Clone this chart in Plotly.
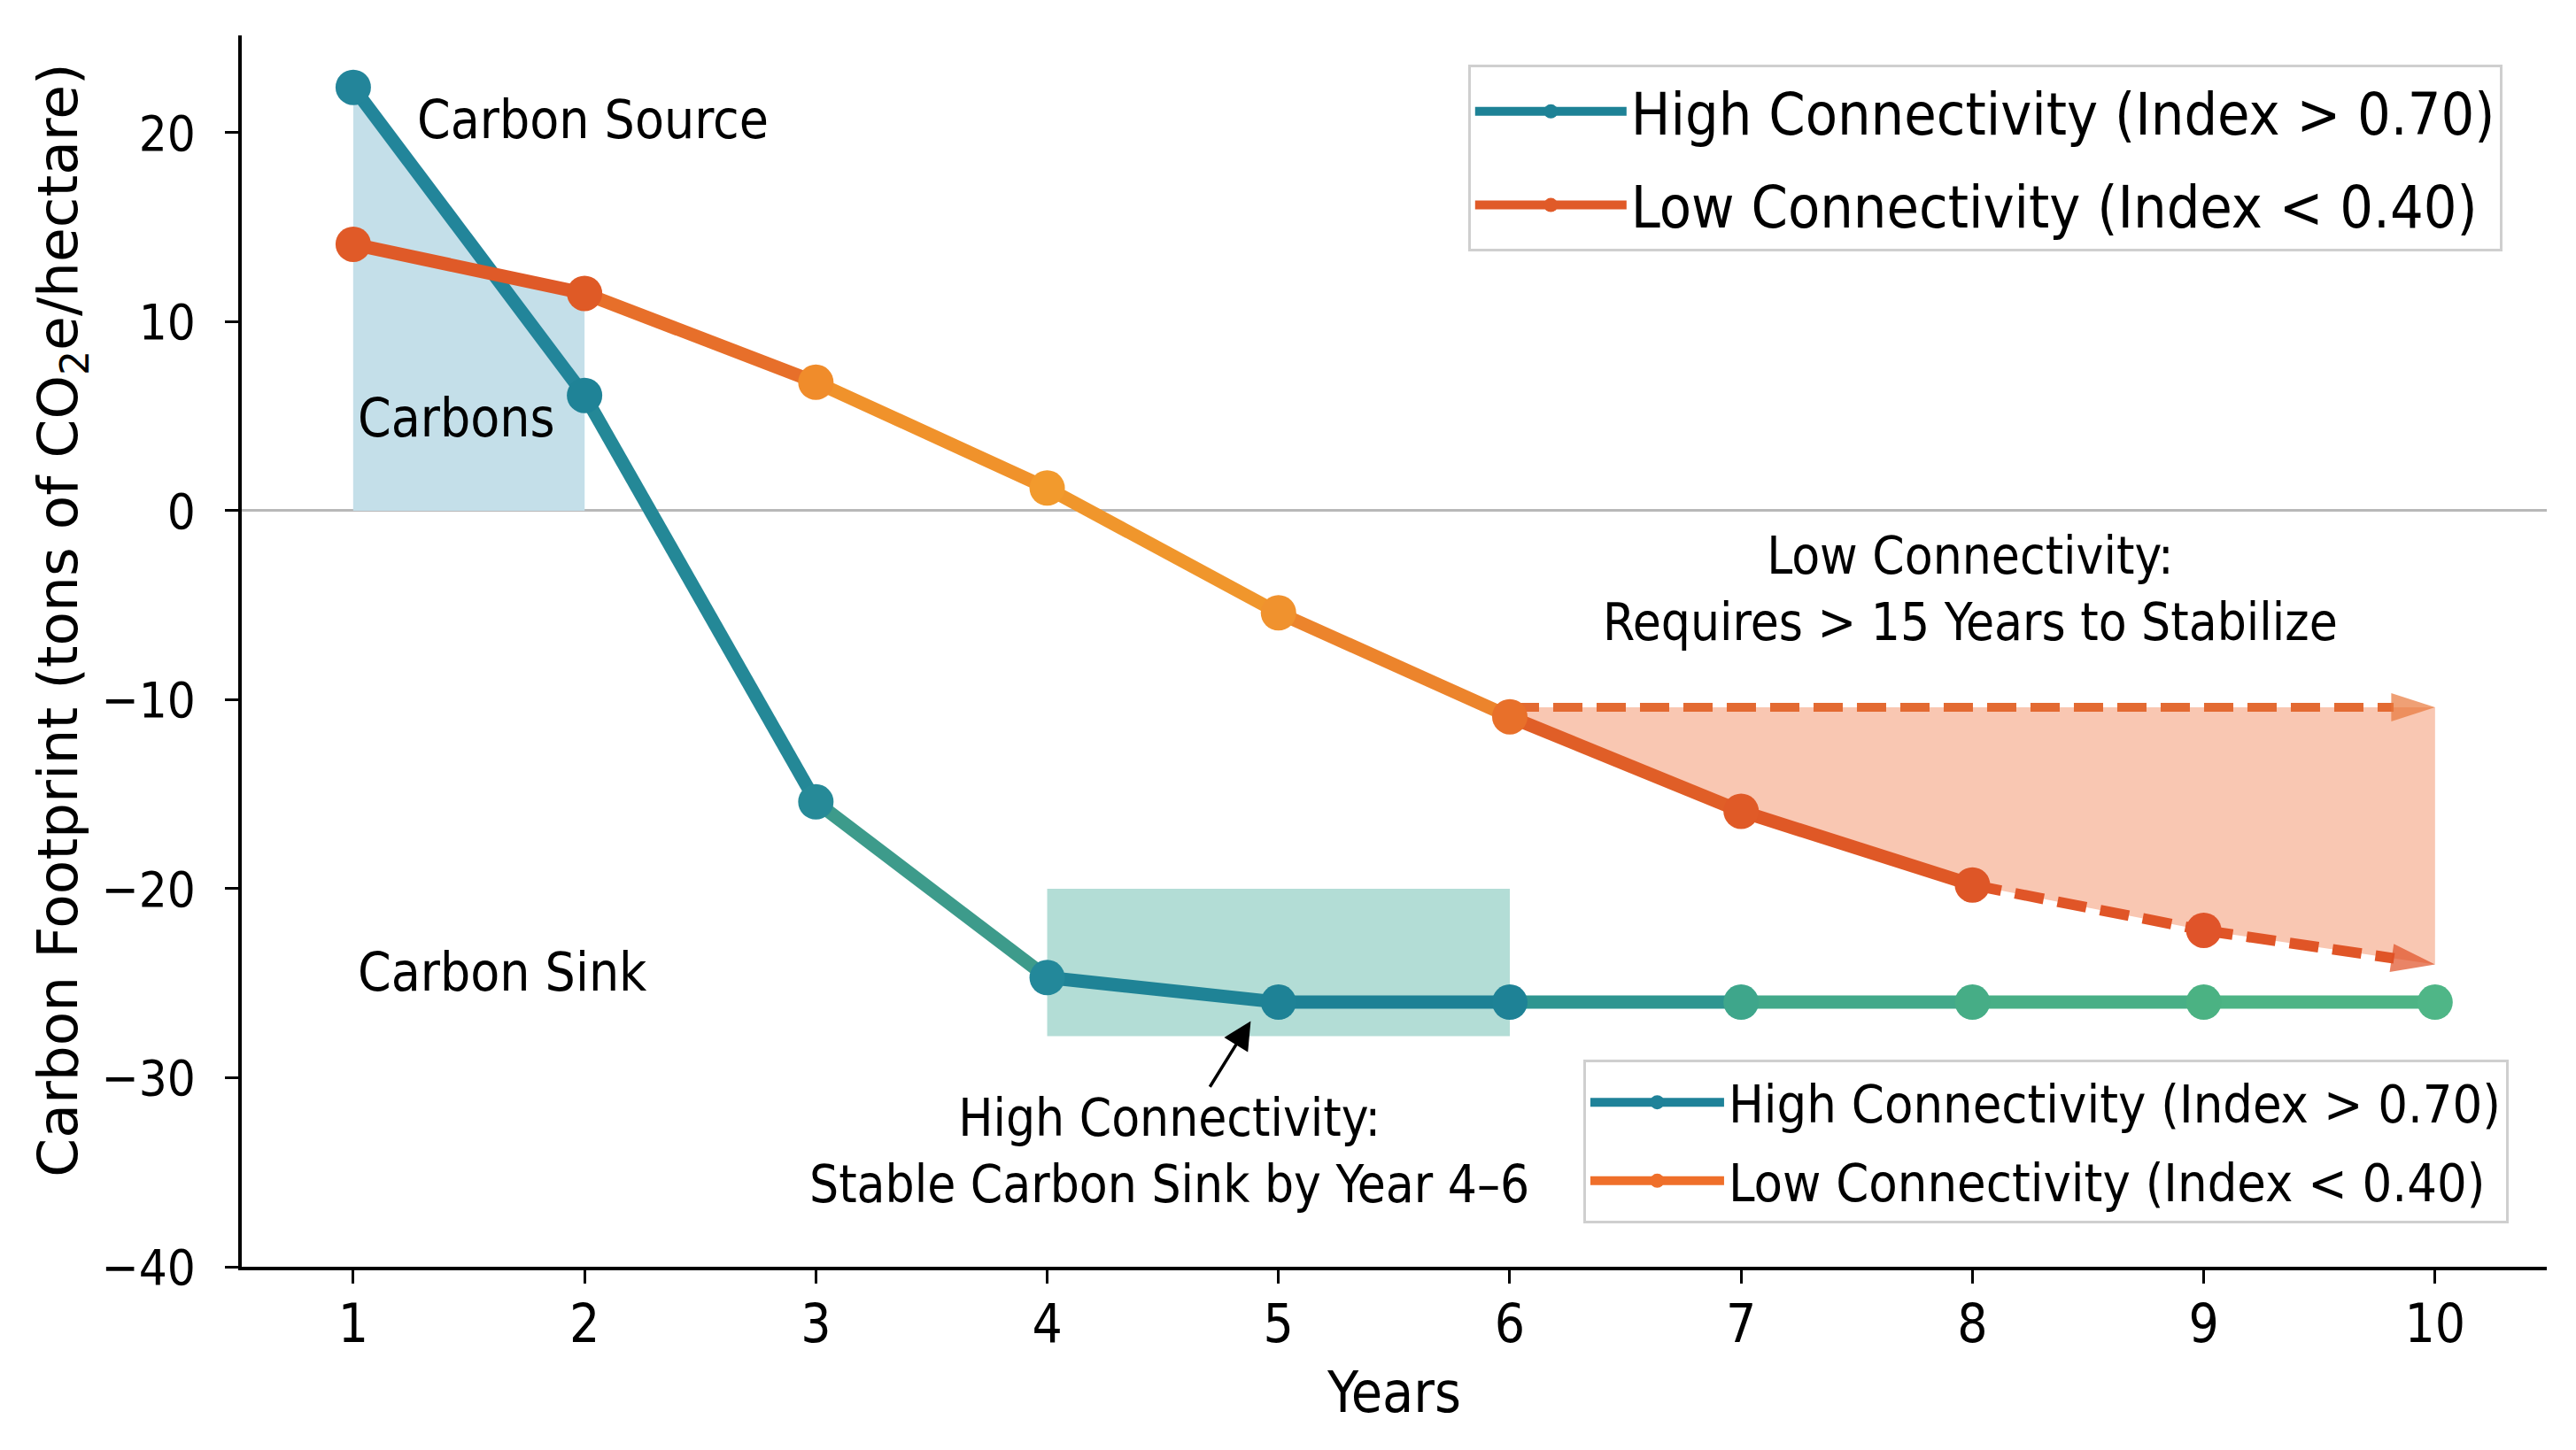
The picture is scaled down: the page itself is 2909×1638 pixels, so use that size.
import plotly.graph_objects as go

# ---------------- data ----------------
years = [1, 2, 3, 4, 5, 6, 7, 8, 9, 10]
high_conn = [22.4, 6.1, -15.4, -24.7, -26.0, -26.0, -26.0, -26.0, -26.0, -26.0]
low_years = [1, 2, 3, 4, 5, 6, 7, 8, 9]
low_conn = [14.1, 11.5, 6.8, 1.2, -5.4, -10.9, -15.9, -19.8, -22.2]
low_proj_year = 10
low_proj_value = -24.0
stabilize_level = -10.4
source_window = [1, 2]
sink_window_years = [4, 6]
sink_band = [-27.8, -20.0]
y_ticks = [-40, -30, -20, -10, 0, 10, 20]

high_name = "High Connectivity (Index > 0.70)"
low_name = "Low Connectivity (Index < 0.40)"
y_title = "Carbon Footprint (tons of CO<sub>2</sub>e/hectare)"

# ---------------- styles ----------------
COND = "DejaVu Sans Condensed, Liberation Sans, Arial, sans-serif"
WIDE = "DejaVu Sans, Arial, sans-serif"

high_seg_colors = ["#22859a", "#248897", "#3d9b8b", "#1f8396", "#1d8195",
                   "#2e9590", "#42a98a", "#48af86", "#4db485"]
high_pt_colors = ["#23859a", "#1f8397", "#268a98", "#23889a", "#1e8296",
                  "#1e8296", "#3ea68b", "#46ad86", "#4bb283", "#4fb687"]
low_seg_colors = ["#df5a28", "#e76f2a", "#f0922b", "#f0962c", "#ec842c",
                  "#e05e27", "#df5826", "#e05527", "#e05527"]
low_pt_colors = ["#e05a28", "#df5a26", "#f08c2b", "#f29a2d", "#f0922e",
                 "#e8702a", "#e05a27", "#de5627", "#e0542a"]

LW = 15
MS = 40
DASH = "33px,16px"
HEAD = 52

fig = go.Figure()

# source shading (years 1-2 above zero)
for series in (high_conn, low_conn):
    fig.add_trace(go.Scatter(
        x=source_window, y=series[:2], mode="lines", line=dict(width=0, color="#c4dfe9"),
        fill="tozeroy", fillcolor="#c4dfe9", showlegend=False, hoverinfo="skip"))

# low connectivity projection wedge
i6 = low_years.index(6)
wedge_x = low_years[i6:] + [low_proj_year]
wedge_low = low_conn[i6:] + [low_proj_value]
fig.add_trace(go.Scatter(
    x=wedge_x, y=[stabilize_level] * len(wedge_x), mode="lines",
    line=dict(width=0, color="#f9c7b2"), showlegend=False, hoverinfo="skip"))
fig.add_trace(go.Scatter(
    x=wedge_x, y=wedge_low, mode="lines", line=dict(width=0, color="#f9c7b2"),
    fill="tonexty", fillcolor="#f9c7b2", showlegend=False, hoverinfo="skip"))

# horizontal dashed reference with arrow head
fig.add_trace(go.Scatter(
    x=[low_years[i6], low_proj_year], y=[stabilize_level, stabilize_level],
    mode="lines+markers",
    line=dict(color="#e36a32", width=10, dash=DASH),
    marker=dict(symbol="arrow", size=[0, HEAD], angleref="previous", color="#e8783a",
                line=dict(width=0)),
    showlegend=False, hoverinfo="skip"))

# high connectivity segments
for i in range(len(years) - 1):
    fig.add_trace(go.Scatter(
        x=years[i:i + 2], y=high_conn[i:i + 2], mode="lines",
        line=dict(color=high_seg_colors[i], width=LW), showlegend=False, hoverinfo="skip"))

# low connectivity segments (solid to year 8, dashed projection afterwards)
low_x_all = low_years + [low_proj_year]
low_y_all = low_conn + [low_proj_value]
for i in range(len(low_x_all) - 1):
    dashed = low_x_all[i] >= 8
    last = i == len(low_x_all) - 2
    tr = dict(
        x=low_x_all[i:i + 2], y=low_y_all[i:i + 2], mode="lines",
        line=dict(color=low_seg_colors[i], width=LW if not dashed else 12,
                  dash=DASH if dashed else "solid"),
        showlegend=False, hoverinfo="skip")
    if last:
        tr["mode"] = "lines+markers"
        tr["marker"] = dict(symbol="arrow", size=[0, HEAD], angleref="previous",
                            color="#e05025", line=dict(width=0))
    fig.add_trace(go.Scatter(**tr))

# markers
fig.add_trace(go.Scatter(
    x=years, y=high_conn, mode="markers", marker=dict(size=MS, color=high_pt_colors),
    showlegend=False, name=high_name))
fig.add_trace(go.Scatter(
    x=low_years, y=low_conn, mode="markers", marker=dict(size=MS, color=low_pt_colors),
    showlegend=False, name=low_name))

# legend entries
legend_entries = [
    (high_name, "#1e8296", "legend", "l1h"),
    (low_name, "#e05a28", "legend", "l1l"),
    (high_name, "#1f8299", "legend2", "l2h"),
    (low_name, "#ef6f2a", "legend2", "l2l"),
]
for name, col, lg, grp in legend_entries:
    fig.add_trace(go.Scatter(x=[None], y=[None], mode="lines+markers", name=name,
                             line=dict(color=col, width=14), marker=dict(size=40, color=col),
                             legend=lg, legendgroup=grp))

# stable sink band
fig.add_shape(type="rect", xref="x", yref="y",
              x0=sink_window_years[0], x1=sink_window_years[1], y0=sink_band[0], y1=sink_band[1],
              fillcolor="#b3ddd6", line=dict(width=0), layer="below")

ann_font = dict(family=COND, size=60, color="black")
annotations = [
    dict(x=-0.078, y=0.525, xref="paper", yref="paper", text=y_title, showarrow=False,
         textangle=-90, xanchor="center", yanchor="middle",
         font=dict(family=WIDE, size=63, color="black")),
    dict(x=1.27, y=20.7, xref="x", yref="y", text="Carbon Source", showarrow=False,
         xanchor="left", yanchor="middle", font=ann_font),
    dict(x=1.01, y=4.9, xref="x", yref="y", text="Carbons", showarrow=False,
         xanchor="left", yanchor="middle", font=ann_font),
    dict(x=1.01, y=-24.4, xref="x", yref="y", text="Carbon Sink", showarrow=False,
         xanchor="left", yanchor="middle", font=ann_font),
    dict(x=4.88, y=-27.0, xref="x", yref="y", ax=4.53, ay=-33.9, axref="x", ayref="y",
         text="High Connectivity:<br>Stable Carbon Sink by Year 4\u20136", showarrow=True,
         arrowhead=2, arrowsize=1.8, arrowwidth=3.5, arrowcolor="black", align="center",
         font=dict(family=COND, size=58, color="black")),
    dict(x=7.99, y=-4.15, xref="x", yref="y",
         text="Low Connectivity:<br>Requires > 15 Years to Stabilize", showarrow=False,
         xanchor="center", yanchor="middle", align="center",
         font=dict(family=COND, size=58, color="black")),
]

fig.update_layout(
    width=2901, height=1630, autosize=False,
    margin=dict(l=265, r=33, t=32, b=207),
    paper_bgcolor="white", plot_bgcolor="white",
    font=dict(family=COND, color="black"),
    annotations=annotations,
    legend=dict(x=0.532, y=0.976, xanchor="left", yanchor="top", bgcolor="white",
                bordercolor="#cfcfcf", borderwidth=3, itemwidth=171,
                traceorder="grouped", tracegroupgap=17,
                font=dict(family=COND, size=66, color="black")),
    legend2=dict(x=0.582, y=0.168, xanchor="left", yanchor="top", bgcolor="white",
                 bordercolor="#cfcfcf", borderwidth=3, itemwidth=151,
                 traceorder="grouped", tracegroupgap=9,
                 font=dict(family=COND, size=59, color="black")),
    xaxis=dict(range=[0.518, 10.483], tickvals=years, ticks="outside", ticklen=15,
               tickwidth=3, tickcolor="black", showline=True, linecolor="black", linewidth=4,
               showgrid=False, zeroline=False, tickfont=dict(family=COND, size=60),
               ticklabelstandoff=-6,
               title=dict(text="Years", font=dict(family=COND, size=64), standoff=22)),
    yaxis=dict(range=[-40, 25.15], tickvals=y_ticks, ticks="outside", ticklen=15,
               tickwidth=3, tickcolor="black", showline=True, linecolor="black", linewidth=4,
               showgrid=False, zeroline=True, zerolinecolor="#b8b8b8", zerolinewidth=3,
               ticklabelstandoff=22, tickfont=dict(family=COND, size=56)),
)

fig.write_html("out.html")
